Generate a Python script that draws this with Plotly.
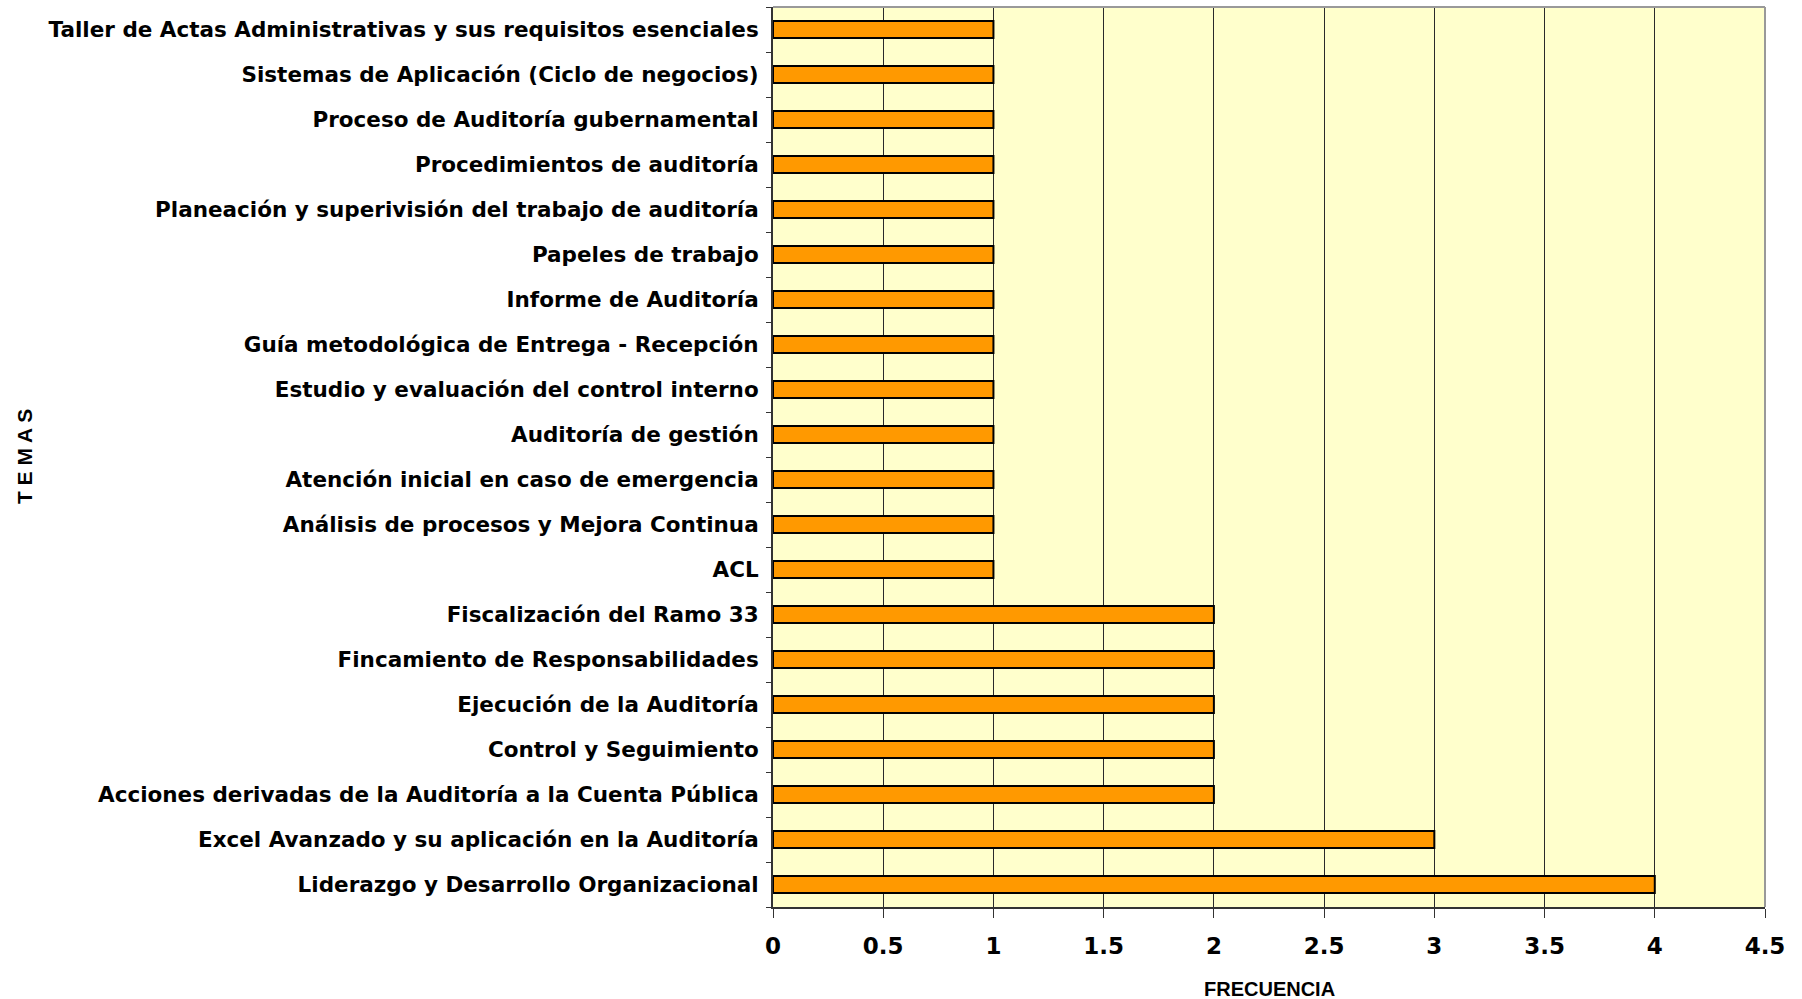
import plotly.graph_objects as go

temas = [
    "Liderazgo y Desarrollo Organizacional",
    "Excel Avanzado y su aplicación en la Auditoría",
    "Acciones derivadas de la Auditoría a la Cuenta Pública",
    "Control y Seguimiento",
    "Ejecución de la Auditoría",
    "Fincamiento de Responsabilidades",
    "Fiscalización del Ramo 33",
    "ACL",
    "Análisis de procesos y Mejora Continua",
    "Atención inicial en caso de emergencia",
    "Auditoría de gestión",
    "Estudio y evaluación del control interno",
    "Guía metodológica de Entrega - Recepción",
    "Informe de Auditoría",
    "Papeles de trabajo",
    "Planeación y superivisión del trabajo de auditoría",
    "Procedimientos de auditoría",
    "Proceso de Auditoría gubernamental",
    "Sistemas de Aplicación (Ciclo de negocios)",
    "Taller de Actas Administrativas y sus requisitos esenciales",
]
frecuencia = [4, 3, 2, 2, 2, 2, 2, 1, 1, 1, 1, 1, 1, 1, 1, 1, 1, 1, 1, 1]
x_ticks = [0, 0.5, 1, 1.5, 2, 2.5, 3, 3.5, 4, 4.5]

fig = go.Figure(go.Bar(
    x=frecuencia, y=temas, orientation="h",
    marker=dict(color="#FF9900", line=dict(color="#000000", width=2)),
))

fig.update_layout(
    width=1802, height=999,
    margin=dict(l=773, r=37, t=7, b=92),
    paper_bgcolor="white", plot_bgcolor="#FFFFCC",
    bargap=0.62, showlegend=False,
    font=dict(family="DejaVu Sans", color="black"),
    shapes=[
        dict(type="line", xref="paper", yref="paper", x0=0, x1=1, y0=1, y1=1,
             line=dict(color="#999999", width=2)),
        dict(type="line", xref="paper", yref="paper", x0=1, x1=1, y0=0, y1=1,
             line=dict(color="#999999", width=2)),
    ],
    annotations=[
        dict(text="FRECUENCIA", xref="paper", yref="paper", x=0.5, y=-0.091,
             xanchor="center", yanchor="middle", showarrow=False,
             font=dict(family="Liberation Sans Narrow, Liberation Sans, Arial, sans-serif",
                       size=20, color="black")),
        dict(text="T E M A S", xref="paper", yref="paper", x=-0.755, y=0.5,
             xanchor="center", yanchor="middle", showarrow=False, textangle=-90,
             font=dict(family="Liberation Sans, Arial, sans-serif", size=21, color="black")),
    ],
)
fig.update_annotations(font_weight="bold")

fig.update_xaxes(
    range=[0, 4.5], tickvals=x_ticks, ticktext=[f"{v:g}" for v in x_ticks],
    showgrid=True, gridcolor="#2a2a2a", gridwidth=1,
    showline=True, linecolor="#333333", linewidth=2,
    ticks="outside", ticklen=9, tickcolor="#333333", tickwidth=1,
    ticklabelstandoff=8,
    tickfont=dict(family="DejaVu Sans", size=23, color="black", weight="bold"),
    zeroline=False, fixedrange=True,
)
fig.update_yaxes(
    type="category", categoryorder="array", categoryarray=temas,
    showgrid=False, showline=True, linecolor="#333333", linewidth=2,
    ticks="outside", ticklen=5, tickcolor="#333333", tickson="boundaries",
    ticklabelstandoff=8,
    tickfont=dict(family="DejaVu Sans", size=21.5, color="black", weight="bold"),
    automargin=False, fixedrange=True,
)

fig.write_html("out.html", config={"displayModeBar": False},
               post_script="document.body.style.margin='0px';document.body.style.overflow='hidden';")
